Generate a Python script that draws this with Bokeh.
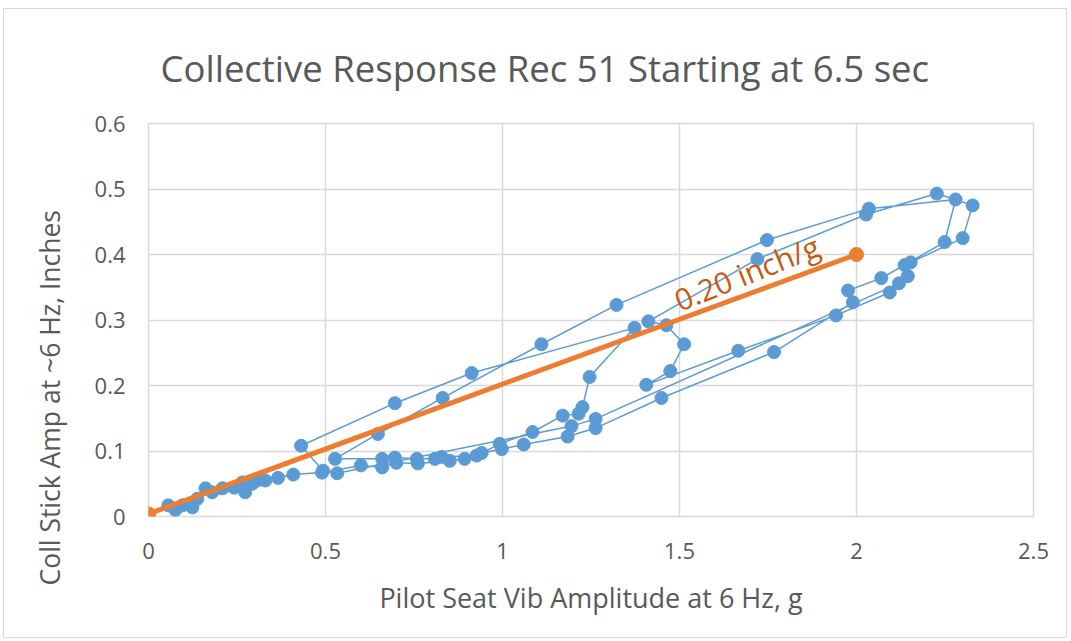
import math
from bokeh.plotting import figure
from bokeh.models import Range1d, FixedTicker, Label, ColumnDataSource, Title
from bokeh.embed import file_html
from bokeh.resources import INLINE

# ---------------- data ----------------
title_text = "Collective Response Rec 51 Starting at 6.5 sec"
x_label = "Pilot Seat Vib Amplitude at 6 Hz, g"
y_label = "Coll Stick Amp at ~6 Hz, Inches"

x_ticks = [0, 0.5, 1, 1.5, 2, 2.5]
x_tick_labels = ["0", "0.5", "1", "1.5", "2", "2.5"]
y_ticks = [0, 0.1, 0.2, 0.3, 0.4, 0.5, 0.6]
y_tick_labels = ["0", "0.1", "0.2", "0.3", "0.4", "0.5", "0.6"]

resp_x = [0.076, 0.056, 0.096, 0.124, 0.138, 0.161, 0.180, 0.209, 0.242, 0.265,
          0.273, 0.293, 0.307, 0.330, 0.366, 0.409, 0.490, 0.600, 0.660, 0.700,
          0.761, 0.851, 0.893, 0.941, 0.998, 1.060, 1.184, 1.263, 1.449, 1.767,
          1.990, 1.976, 2.070, 2.136, 2.249, 2.280, 2.035, 1.747, 1.322, 1.110,
          0.831, 0.648, 0.527,
          0.660, 0.696, 0.758, 0.809, 0.828, 0.927, 0.992, 1.085, 1.170, 1.215,
          1.226, 1.246, 1.373, 0.913, 0.696, 0.431, 0.493,
          0.533, 1.195, 1.263, 2.120, 2.153, 2.300, 2.328, 2.227, 2.027, 1.720,
          1.412, 1.463, 1.513, 1.474, 1.406, 1.666, 1.942, 2.094, 2.145]
resp_y = [0.010, 0.017, 0.017, 0.014, 0.027, 0.043, 0.037, 0.043, 0.044, 0.052,
          0.037, 0.050, 0.055, 0.055, 0.059, 0.064, 0.067, 0.078, 0.075, 0.082,
          0.081, 0.085, 0.088, 0.097, 0.103, 0.110, 0.122, 0.135, 0.181, 0.251,
          0.327, 0.345, 0.364, 0.384, 0.419, 0.484, 0.470, 0.422, 0.323, 0.263,
          0.181, 0.126, 0.088,
          0.088, 0.090, 0.088, 0.088, 0.091, 0.093, 0.111, 0.129, 0.154, 0.157,
          0.167, 0.213, 0.288, 0.219, 0.173, 0.108, 0.070,
          0.066, 0.138, 0.149, 0.356, 0.388, 0.425, 0.475, 0.493, 0.461, 0.393,
          0.298, 0.292, 0.263, 0.222, 0.201, 0.253, 0.307, 0.342, 0.367]

fit_x = [0, 2]
fit_y = [0.004, 0.40]
fit_text = "0.20 inch/g"

# ---------------- styles ----------------
FONT = "Open Sans"
GRAY = "#595959"
GRID = "#d9d9d9"
BLUE = "#5b9bd5"
ORANGE = "#ed7d31"

p = figure(width=1064, height=630, output_backend="svg", toolbar_location=None,
           x_range=Range1d(0, 2.5), y_range=Range1d(0, 0.6),
           min_border_left=144, min_border_right=35, min_border_top=113,
           min_border_bottom=123)
p.styles = {"border": "1px solid #d9d9d9", "margin-left": "3px", "margin-top": "8px"}
p.outline_line_color = GRID
p.outline_line_width = 1.5

for ax, ticks, labels in ((p.xaxis[0], x_ticks, x_tick_labels),
                          (p.yaxis[0], y_ticks, y_tick_labels)):
    ax.ticker = FixedTicker(ticks=ticks)
    ax.major_label_overrides = {t: l for t, l in zip(ticks, labels)}
    ax.axis_line_color = None
    ax.major_tick_line_color = None
    ax.minor_tick_line_color = None
    ax.major_label_text_font = FONT
    ax.major_label_text_font_size = "22px"
    ax.major_label_text_color = GRAY

p.yaxis.major_label_standoff = 17
p.xaxis.major_label_standoff = 20
p.xaxis.axis_label = x_label
p.xaxis.axis_label_text_font = FONT
p.xaxis.axis_label_text_font_size = "27px"
p.xaxis.axis_label_text_font_style = "normal"
p.xaxis.axis_label_text_color = GRAY
p.xaxis.axis_label_standoff = 17

p.xgrid.ticker = FixedTicker(ticks=x_ticks)
p.ygrid.ticker = FixedTicker(ticks=y_ticks)
p.grid.grid_line_color = GRID
p.grid.grid_line_width = 1.5

src = ColumnDataSource(dict(x=resp_x, y=resp_y))
p.line("x", "y", source=src, line_color=BLUE, line_width=1.5)
p.scatter("x", "y", source=src, size=13, color=BLUE)

fsrc = ColumnDataSource(dict(x=fit_x, y=fit_y))
p.line("x", "y", source=fsrc, line_color=ORANGE, line_width=5)
p.scatter("x", "y", source=fsrc, size=14, color=ORANGE)

p.add_layout(Label(x=1.69, y=0.372, text=fit_text, angle=0.38,
                   text_align="center", text_baseline="middle",
                   text_font=FONT, text_font_size="30px", text_color="#c55a11"))

p.add_layout(Title(text=y_label, align="left", offset=-69, standoff=48,
                   text_font=FONT, text_font_size="26.5px", text_font_style="normal",
                   text_color=GRAY), "left")

p.title.text = title_text
p.title.align = "left"
p.title.offset = 12
p.title.standoff = 62
p.title.text_font = FONT
p.title.text_font_size = "36.5px"
p.title.text_font_style = "normal"
p.title.text_color = GRAY

open("out.html", "w").write(file_html(p, INLINE))
